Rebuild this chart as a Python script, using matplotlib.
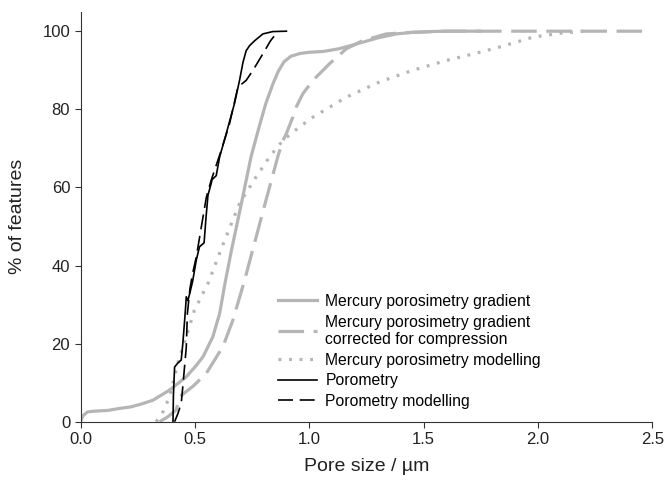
import matplotlib
matplotlib.use('Agg')
import matplotlib.pyplot as plt

plt.rcParams['font.family'] = ['Liberation Sans', 'DejaVu Sans']

# mercury porosimetry gradient
grad_x = [0, 0.01, 0.03, 0.06, 0.12, 0.17, 0.22, 0.27, 0.316, 0.35, 0.389, 0.43, 0.462, 0.5,
          0.535, 0.578, 0.608, 0.63, 0.66, 0.7, 0.73, 0.746, 0.783, 0.81, 0.841, 0.865, 0.89,
          0.92, 0.96, 1.0, 1.06, 1.13, 1.18, 1.235, 1.3, 1.38, 1.45, 1.526, 1.6, 1.745]
grad_y = [0, 1.5, 2.5, 2.7, 2.9, 3.4, 3.8, 4.6, 5.5, 6.7, 8.1, 10, 11.5, 14,
          16.6, 21.7, 27.7, 35, 44, 55, 63.5, 68, 76, 81.5, 86.5, 89.8, 92.2,
          93.6, 94.3, 94.6, 94.8, 95.5, 96.3, 97.2, 98.3, 99.3, 99.7, 99.9, 100, 100]

# gradient corrected for compression
corr_x = [0.345, 0.38, 0.418, 0.433, 0.49, 0.55, 0.622, 0.666, 0.717, 0.76, 0.8, 0.863, 0.885,
          0.9, 0.928, 0.943, 0.972, 1.016, 1.089, 1.162, 1.234, 1.337, 1.45, 1.6, 2.0, 2.47]
corr_y = [0, 1.2, 3, 6.4, 9, 12.4, 19.2, 26, 36.2, 45.6, 54.4, 68, 72,
          73.8, 78, 80.6, 84, 87.4, 91.7, 95.5, 97.6, 99.3, 99.7, 100, 100, 100]

# mercury porosimetry modelling
mod_x = [0.33, 0.36, 0.389, 0.425, 0.462, 0.498, 0.557, 0.62, 0.695, 0.76, 0.826, 0.87, 0.9,
         0.96, 1.016, 1.162, 1.307, 1.453, 1.6, 1.745, 1.83, 1.98, 2.1, 2.2]
mod_y = [0, 2.5, 6.4, 15, 21.7, 28.6, 35.4, 45, 55.9, 62, 67.8, 71, 72.8,
         75.6, 78, 83.1, 87, 90, 92.5, 94.6, 95.9, 98.5, 99.5, 100]

# porometry
por_x = [0.404, 0.406, 0.411, 0.425, 0.44, 0.447, 0.455, 0.46, 0.462, 0.469, 0.478, 0.49, 0.506,
         0.52, 0.53, 0.54, 0.548, 0.557, 0.571, 0.575, 0.593, 0.608, 0.637, 0.673, 0.695, 0.71,
         0.724, 0.739, 0.76, 0.797, 0.84, 0.9]
por_y = [0, 7, 14, 15, 15.8, 20, 26, 30, 32, 31, 33, 36, 41.4,
         44.8, 45.3, 45.8, 52, 58, 61, 62, 63, 67.8, 73.8, 81.5, 87.4, 92,
         95, 96.3, 97.5, 99.3, 99.9, 100]

# porometry modelling
pm_x = [0.411, 0.425, 0.44, 0.447, 0.462, 0.467, 0.478, 0.49, 0.506, 0.528, 0.55, 0.571, 0.615,
        0.65, 0.688, 0.705, 0.724, 0.754, 0.797, 0.83, 0.863]
pm_y = [0, 2, 4.7, 9, 19, 27.7, 34, 38, 42.2, 49.9, 57.5, 61.8, 69.5,
        76, 85.7, 86.5, 87.4, 90, 94.2, 97.5, 100]

grey = '#b5b5b5'

fig = plt.figure(figsize=(6.65, 4.84), dpi=100)
ax = fig.add_axes([0.1212, 0.1287, 0.8597, 0.8472])

ax.plot(grad_x, grad_y, color=grey, lw=2.3, label='Mercury porosimetry gradient')
ax.plot(corr_x, corr_y, color=grey, lw=2.3, dashes=(8, 3),
        label='Mercury porosimetry gradient\ncorrected for compression')
ax.plot(mod_x, mod_y, color=grey, lw=2.3, dashes=(0.9, 2.4),
        label='Mercury porosimetry modelling')
ax.plot(por_x, por_y, color='black', lw=1.2, label='Porometry')
ax.plot(pm_x, pm_y, color='black', lw=1.2, dashes=(9, 4), label='Porometry modelling')

ax.set_xlim(0, 2.5)
ax.set_ylim(0, 105)
ax.set_xticks([0, 0.5, 1.0, 1.5, 2.0, 2.5])
ax.set_xticklabels(['0.0', '0.5', '1.0', '1.5', '2.0', '2.5'])
ax.set_yticks([0, 20, 40, 60, 80, 100])
for s in ['top', 'right']:
    ax.spines[s].set_visible(False)
for s in ['left', 'bottom']:
    ax.spines[s].set_color('#333333')
ax.tick_params(direction='out', length=4, color='#333333', labelsize=12, labelcolor='#222222')
ax.set_xlabel('Pore size / µm', fontsize=14, color='#222222', labelpad=8)
ax.set_ylabel('% of features', fontsize=14, color='#222222', labelpad=12)

ax.legend(loc='lower left', bbox_to_anchor=(0.332, 0.012), frameon=False, fontsize=11.3,
          handlelength=2.5, handletextpad=0.5, labelspacing=0.36, borderpad=0)

fig.savefig('out.png', dpi=100)
